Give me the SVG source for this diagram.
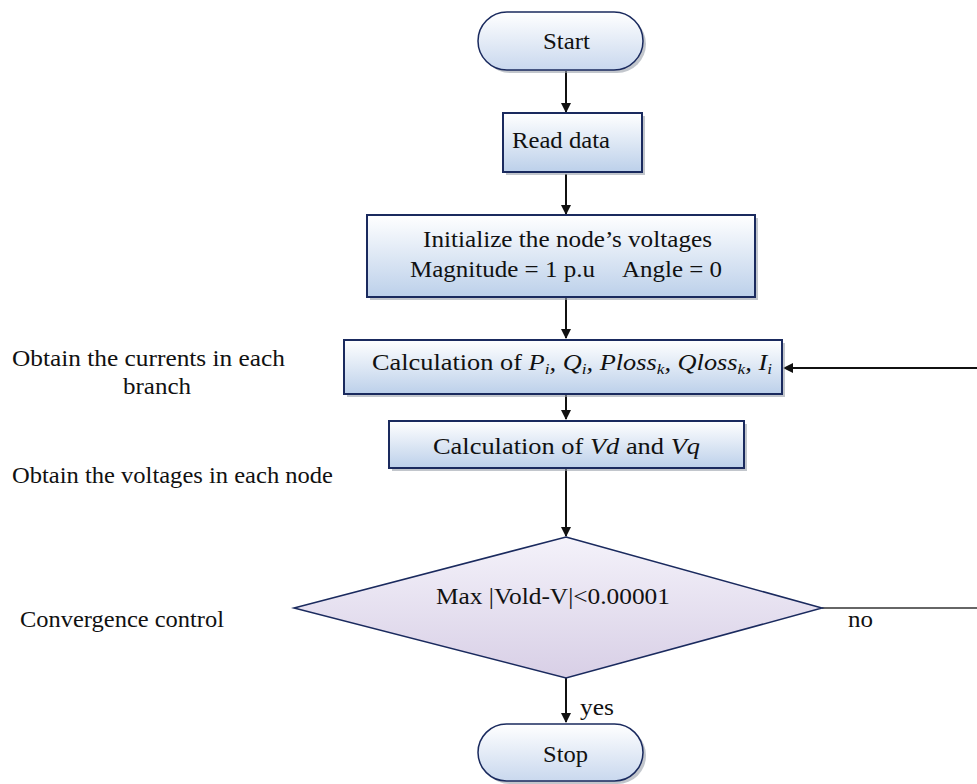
<svg xmlns="http://www.w3.org/2000/svg" width="977" height="784" viewBox="0 0 977 784">
<style>
text{font-family:"Liberation Serif","DejaVu Serif","Noto Serif",serif;font-size:23px;fill:#111}
.c{text-anchor:middle}
.box{fill:url(#gb);stroke:#1a2a5e;stroke-width:2}
.pill{fill:url(#gp);stroke:#1a2a5e;stroke-width:1.5}
.dia{fill:url(#gd);stroke:#1a2a5e;stroke-width:1.5}
.sh{fill:#9aa0aa;opacity:0.6}
.ln{stroke:#111;stroke-width:2;fill:none}
.lt{stroke:#333;stroke-width:1.3;fill:none}
</style>
<defs>
<linearGradient id="gb" x1="0" y1="0" x2="0" y2="1"><stop offset="0" stop-color="#ffffff"/><stop offset="1" stop-color="#bcd0ea"/></linearGradient>
<linearGradient id="gp" x1="0" y1="0" x2="0" y2="1"><stop offset="0" stop-color="#ffffff"/><stop offset="1" stop-color="#c9d8ee"/></linearGradient>
<linearGradient id="gd" x1="0" y1="0" x2="0" y2="1"><stop offset="0" stop-color="#f4f2fa"/><stop offset="1" stop-color="#d8cfe6"/></linearGradient>
<marker id="ar" markerWidth="10" markerHeight="10" refX="9" refY="5" orient="auto" markerUnits="userSpaceOnUse"><path d="M0,0 L10,5 L0,10 Z" fill="#111"/></marker>
</defs>
<rect width="977" height="784" fill="#fff"/>

<g id="connectors">
<line class="ln" x1="566" y1="71" x2="566" y2="112" marker-end="url(#ar)"/>
<line class="ln" x1="566" y1="174" x2="566" y2="214" marker-end="url(#ar)"/>
<line class="ln" x1="566" y1="298" x2="566" y2="338" marker-end="url(#ar)"/>
<line class="ln" x1="566" y1="395" x2="566" y2="419" marker-end="url(#ar)"/>
<line class="ln" x1="566" y1="469" x2="566" y2="536" marker-end="url(#ar)"/>
<line class="ln" x1="566" y1="678" x2="566" y2="722" marker-end="url(#ar)"/>
<line class="lt" x1="822" y1="608" x2="977" y2="608"/>
<line class="ln" x1="977" y1="368" x2="784" y2="368" stroke-width="1.5" marker-end="url(#ar)"/>
<text x="580" y="715" textLength="34" lengthAdjust="spacingAndGlyphs">yes</text>
<text x="848" y="627" textLength="25" lengthAdjust="spacingAndGlyphs">no</text>
</g>

<g id="start">
<rect class="sh" x="481" y="15" width="165" height="58" rx="29"/>
<rect class="pill" x="478" y="12" width="165" height="58" rx="29"/>
<text x="543" y="49" textLength="47" lengthAdjust="spacingAndGlyphs">Start</text>
</g>

<g id="read">
<rect class="sh" x="506" y="116" width="139" height="59"/>
<rect class="box" x="503" y="113" width="139" height="59"/>
<text x="512" y="148" textLength="98" lengthAdjust="spacingAndGlyphs">Read data</text>
</g>

<g id="init">
<rect class="sh" x="370" y="218" width="388" height="82"/>
<rect class="box" x="367" y="215" width="388" height="82"/>
<text x="423" y="247" textLength="289" lengthAdjust="spacingAndGlyphs">Initialize the node’s voltages</text>
<text x="410" y="277" textLength="185" lengthAdjust="spacingAndGlyphs">Magnitude = 1 p.u</text>
<text x="622" y="277" textLength="100" lengthAdjust="spacingAndGlyphs">Angle = 0</text>
</g>

<g id="calc1">
<rect class="sh" x="347" y="343" width="438" height="54"/>
<rect class="box" x="344" y="340" width="438" height="54"/>
<text x="372" y="370" textLength="400" lengthAdjust="spacingAndGlyphs">Calculation of <tspan font-style="italic">P<tspan font-size="15" dy="4">i</tspan><tspan dy="-4">, Q</tspan><tspan font-size="15" dy="4">i</tspan><tspan dy="-4">, Ploss</tspan><tspan font-size="15" dy="4">k</tspan><tspan dy="-4">, Qloss</tspan><tspan font-size="15" dy="4">k</tspan><tspan dy="-4">, I</tspan><tspan font-size="15" dy="4">i</tspan></tspan></text>
</g>

<g id="calc2">
<rect class="sh" x="392" y="424" width="355" height="47"/>
<rect class="box" x="389" y="421" width="355" height="47"/>
<text x="433" y="454" textLength="267" lengthAdjust="spacingAndGlyphs">Calculation of <tspan font-style="italic">Vd</tspan> and <tspan font-style="italic">Vq</tspan></text>
</g>

<g id="decision">
<polygon class="dia" points="566,537 822,608 566,678 294,608"/>
<text x="436" y="604" textLength="234" lengthAdjust="spacingAndGlyphs">Max |Vold-V|&lt;0.00001</text>
</g>

<g id="stop">
<rect class="sh" x="481" y="727" width="165" height="57" rx="28.5"/>
<rect class="pill" x="478" y="724" width="165" height="57" rx="28.5"/>
<text x="543" y="762" textLength="45" lengthAdjust="spacingAndGlyphs">Stop</text>
</g>

<g id="labels">
<text x="12" y="366" textLength="273" lengthAdjust="spacingAndGlyphs">Obtain the currents in each</text>
<text x="123" y="394" textLength="68" lengthAdjust="spacingAndGlyphs">branch</text>
<text x="12" y="483" textLength="321" lengthAdjust="spacingAndGlyphs">Obtain the voltages in each node</text>
<text x="20" y="627" textLength="204" lengthAdjust="spacingAndGlyphs">Convergence control</text>
</g>
</svg>
